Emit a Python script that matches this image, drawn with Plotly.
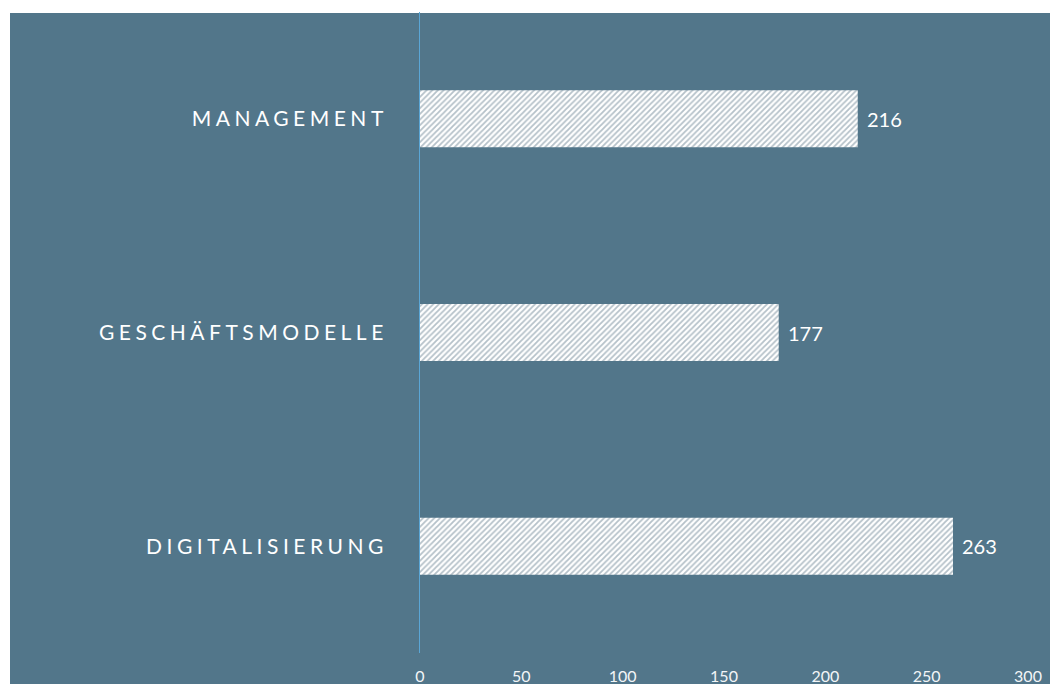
import plotly.graph_objects as go

categories = ["DIGITALISIERUNG", "GESCHÄFTSMODELLE", "MANAGEMENT"]
values = [263, 177, 216]
x_ticks = [0, 50, 100, 150, 200, 250, 300]

BG = "#52768a"

fig = go.Figure()
fig.add_trace(go.Bar(
    y=categories, x=values, orientation="h", width=0.267,
    marker=dict(color="white", line=dict(width=0),
                pattern=dict(shape="/", size=4, solidity=0.45,
                             fgcolor="#6c8494", bgcolor="#ffffff", fillmode="overlay")),
    hoverinfo="skip",
))
for c, v in zip(categories, values):
    fig.add_annotation(x=v, y=c, text=str(v), showarrow=False, xanchor="left",
                       xshift=7, font=dict(family="Lato", size=20, color="white"))

fig.add_shape(type="rect", xref="paper", yref="paper",
              x0=(10 - 420) / 608, x1=(1050 - 420) / 608,
              y0=(653 - 690) / 641, y1=(653 - 13) / 641,
              fillcolor=BG, line=dict(width=0), layer="below")

fig.update_layout(
    width=1056, height=684, autosize=False,
    margin=dict(l=420, r=28, t=12, b=31),
    paper_bgcolor="white", plot_bgcolor="rgba(0,0,0,0)",
    showlegend=False,
    xaxis=dict(range=[0, 300], tickvals=x_ticks, ticktext=[str(t) for t in x_ticks],
               showgrid=False, zeroline=False, showline=False, ticks="", automargin=False,
               tickfont=dict(family="Lato", size=16, color="#f2f5f7"), ticklabelstandoff=12),
    yaxis=dict(categoryorder="array", categoryarray=categories, range=[-0.5, 2.5],
               showgrid=False, zeroline=False, showline=True, linecolor="#5aa6d6", linewidth=1,
               ticks="", automargin=False, tickfont=dict(family="Lato", size=21, color="white"),
               ticklabelstandoff=27),
)

post = """
document.body.style.margin='0';
document.body.style.padding='0';
document.body.style.overflow='hidden';
var gd = document.getElementById('{plot_id}');
function ls(){ gd.querySelectorAll('.ytick text').forEach(function(t){ t.style.letterSpacing='4.5px'; }); }
ls(); gd.on('plotly_afterplot', ls);
"""
fig.write_html("out.html", post_script=post,
               config={"displayModeBar": False, "responsive": False})
